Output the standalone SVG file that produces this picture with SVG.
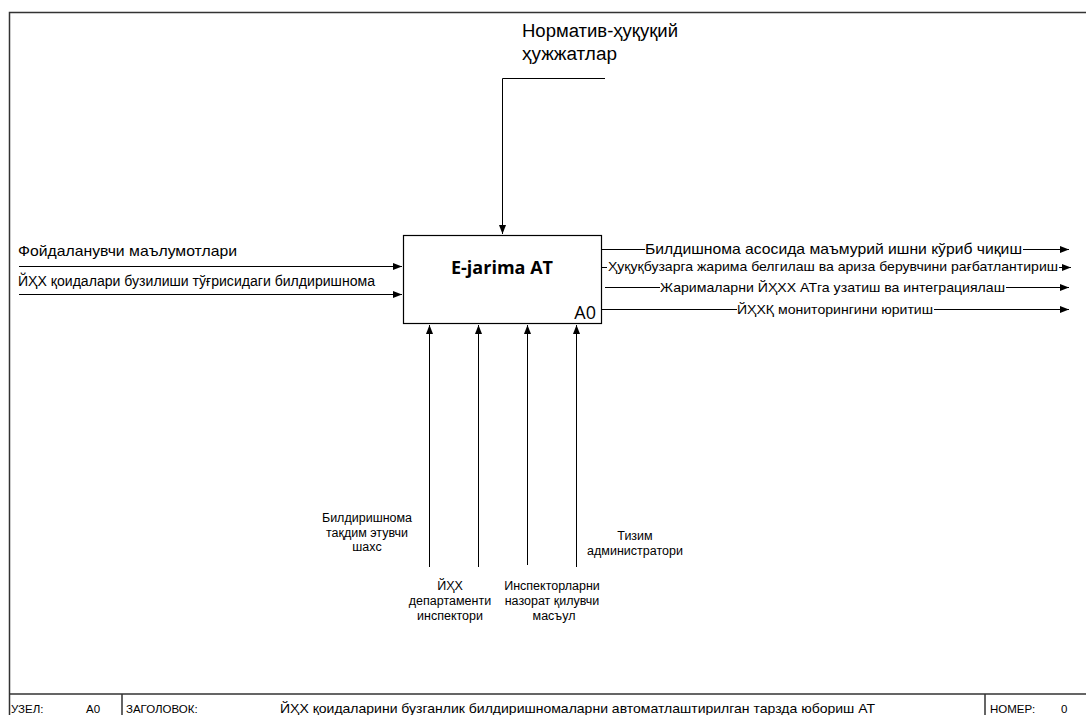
<svg xmlns="http://www.w3.org/2000/svg" width="1086" height="715" viewBox="0 0 1086 715">
<style>
.t{font-family:"Liberation Sans",Arial,sans-serif;fill:#000}
.ln{stroke:#000;stroke-width:1;fill:none}
.fr{stroke:#333;stroke-width:1.5;fill:none}
</style>
<defs>
<marker id="ah" markerWidth="9" markerHeight="7" refX="9" refY="3.5" orient="auto" markerUnits="userSpaceOnUse">
<path d="M0,0 L9,3.5 L0,7 z" fill="#000"/>
</marker>
</defs>
<rect width="1086" height="715" fill="#fff"/>
<g id="frame">
<path class="fr" d="M9.5,730 V12.5 H1090"/>
<path class="fr" d="M9 694 H1090 M122 694 V715 M985 694 V715"/>
<text class="t" x="11" y="713" font-size="11.5">УЗЕЛ:</text>
<text class="t" x="86" y="713" font-size="11.5">A0</text>
<text class="t" x="126" y="713" font-size="11.5">ЗАГОЛОВОК:</text>
<text class="t" x="280" y="713" font-size="13.5" textLength="595" lengthAdjust="spacingAndGlyphs">ЙҲХ қоидаларини бузганлик билдиришномаларни автоматлаштирилган тарзда юбориш АТ</text>
<text class="t" x="990" y="713" font-size="11.5">НОМЕР:</text>
<text class="t" x="1061" y="713" font-size="11.5">0</text>
</g>
<g id="node-A0">
<rect x="403.5" y="235.5" width="198" height="88" fill="#fff" stroke="#000" stroke-width="1.2"/>
<text x="502" y="274" text-anchor="middle" font-family="Open Sans,'DejaVu Sans',sans-serif" font-weight="bold" font-size="18">E-jarima AT</text>
<text x="596" y="319" text-anchor="end" font-family="Open Sans,'DejaVu Sans',sans-serif" font-size="18">A0</text>
</g>
<g id="connectors">
<path class="ln" d="M605,78.5 H502.5 V234" marker-end="url(#ah)"/>
<path class="ln" d="M19,266.5 H402" marker-end="url(#ah)"/>
<path class="ln" d="M19,294.5 H402" marker-end="url(#ah)"/>
<path class="ln" d="M602,249.5 H645"/>
<path class="ln" d="M1023,249.5 H1069" marker-end="url(#ah)"/>
<path class="ln" d="M602,267.5 H607"/>
<path class="ln" d="M1059,267.5 H1071" marker-end="url(#ah)"/>
<path class="ln" d="M605,287.5 H660"/>
<path class="ln" d="M1006,287.5 H1069" marker-end="url(#ah)"/>
<path class="ln" d="M602,309.5 H737"/>
<path class="ln" d="M934,309.5 H1069" marker-end="url(#ah)"/>
<path class="ln" d="M429.5,567 V325" marker-end="url(#ah)"/>
<path class="ln" d="M478.5,567 V325" marker-end="url(#ah)"/>
<path class="ln" d="M527.5,565 V325" marker-end="url(#ah)"/>
<path class="ln" d="M576.5,567 V325" marker-end="url(#ah)"/>
</g>
<g id="labels">
<text class="t" x="522" y="37" font-size="18" textLength="156" lengthAdjust="spacingAndGlyphs">Норматив-ҳуқуқий</text>
<text class="t" x="522" y="60" font-size="18" textLength="95" lengthAdjust="spacingAndGlyphs">ҳужжатлар</text>
<text class="t" x="18" y="256" font-size="15" textLength="219" lengthAdjust="spacingAndGlyphs">Фойдаланувчи маълумотлари</text>
<text class="t" x="18" y="286" font-size="14" textLength="357" lengthAdjust="spacingAndGlyphs">ЙҲХ қоидалари бузилиши тўғрисидаги билдиришнома</text>
<text class="t" x="645" y="254" font-size="14.5" textLength="377" lengthAdjust="spacingAndGlyphs">Билдишнома асосида маъмурий ишни кўриб чиқиш</text>
<text class="t" x="608" y="271" font-size="13" textLength="450" lengthAdjust="spacingAndGlyphs">Ҳуқуқбузарга жарима белгилаш ва ариза берувчини рағбатлантириш</text>
<text class="t" x="660" y="292" font-size="13.5" textLength="345" lengthAdjust="spacingAndGlyphs">Жарималарни ЙҲХХ АТга узатиш ва интеграциялаш</text>
<text class="t" x="737" y="314" font-size="13.5" textLength="196" lengthAdjust="spacingAndGlyphs">ЙҲХҚ мониторингини юритиш</text>
<g font-size="12.5" text-anchor="middle" class="t">
<text class="t" x="367" y="522">Билдиришнома</text>
<text class="t" x="367" y="537">тақдим этувчи</text>
<text class="t" x="367" y="551">шахс</text>
<text class="t" x="450" y="590">ЙҲХ</text>
<text class="t" x="450" y="605">департаменти</text>
<text class="t" x="450" y="620">инспектори</text>
<text class="t" x="552" y="590">Инспекторларни</text>
<text class="t" x="552" y="605">назорат қилувчи</text>
<text class="t" x="554" y="620">масъул</text>
<text class="t" x="635" y="540">Тизим</text>
<text class="t" x="635" y="555">администратори</text>
</g>
</g>
</svg>
